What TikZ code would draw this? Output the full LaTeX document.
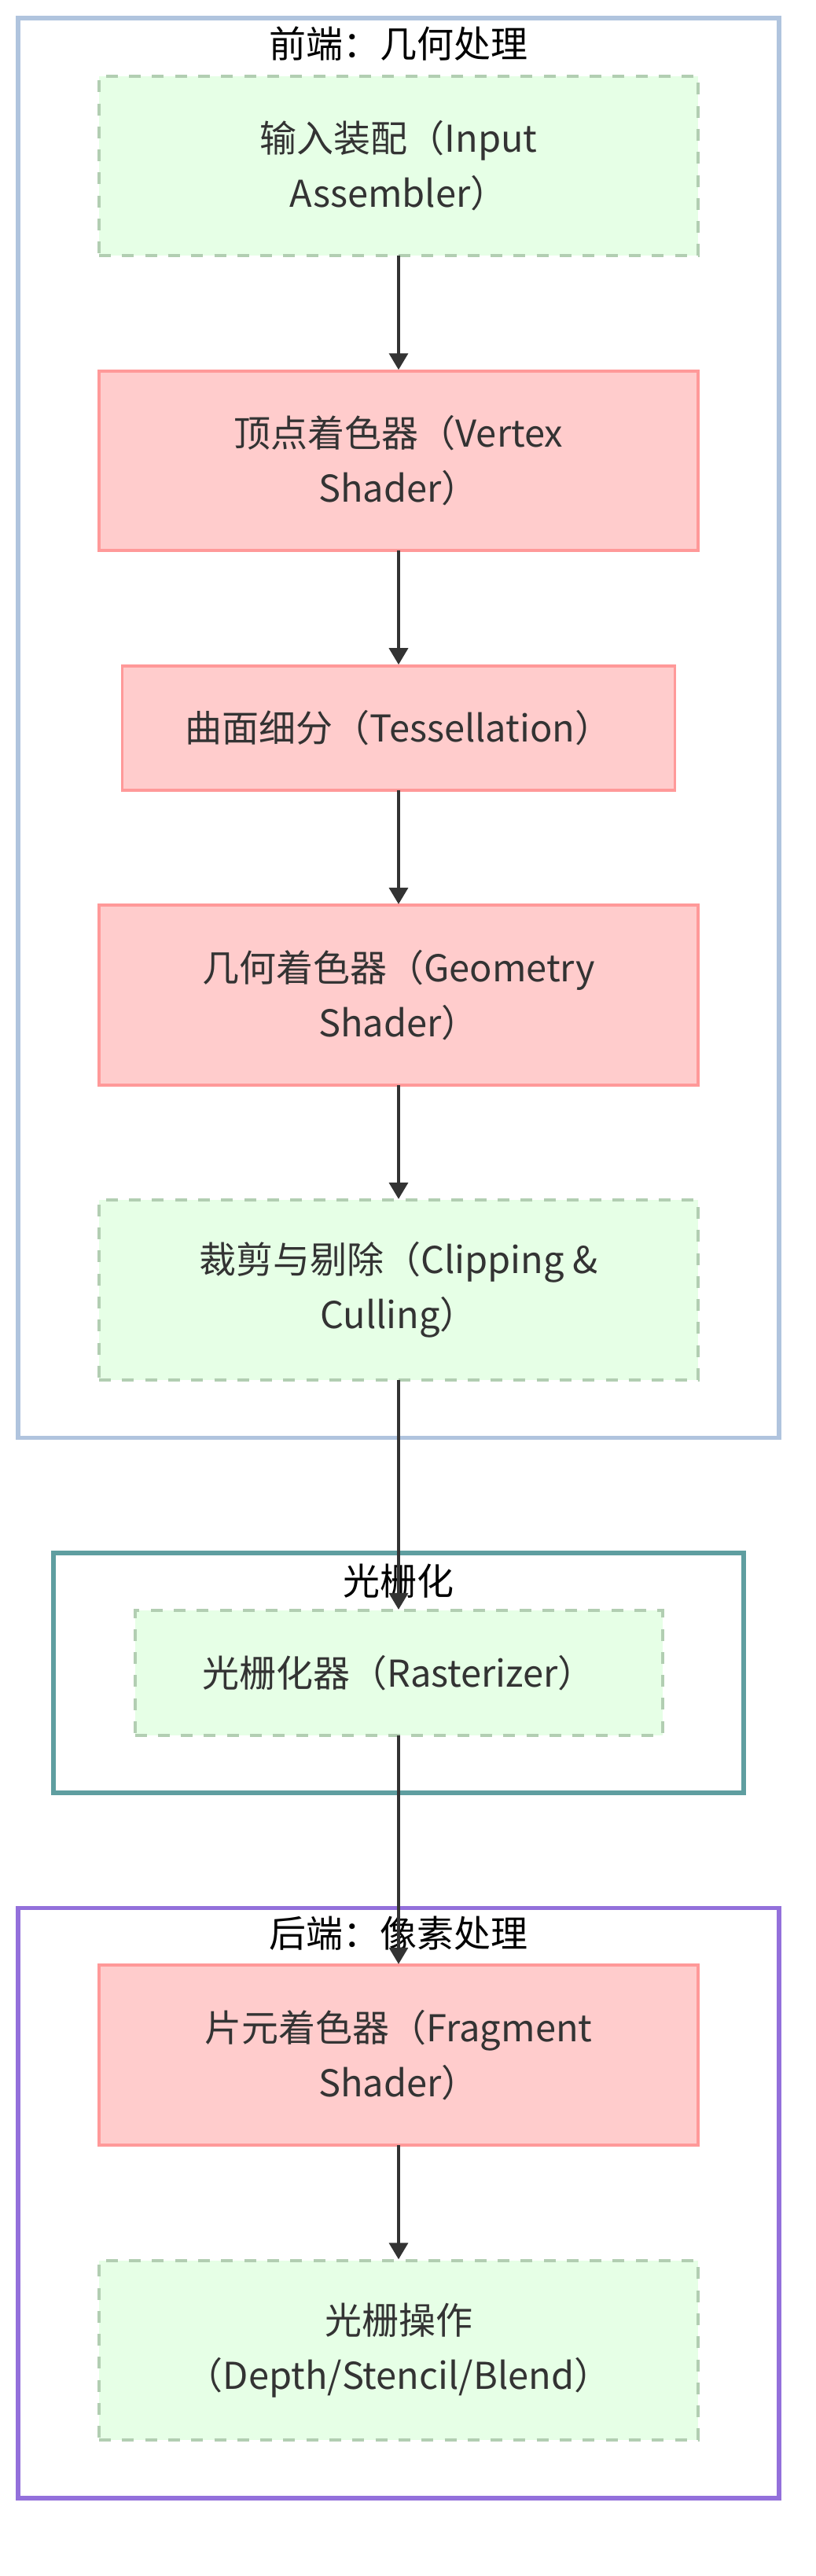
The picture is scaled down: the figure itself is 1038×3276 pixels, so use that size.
\documentclass[tikz,border=0pt]{standalone}
\usepackage{fontspec}
\newfontfamily\cjk{Noto Sans CJK SC}
\usetikzlibrary{arrows.meta}
\definecolor{pinkfill}{HTML}{FFCCCC}
\definecolor{pinkline}{HTML}{FF9999}
\definecolor{greenfill}{HTML}{E6FFE6}
\definecolor{greenline}{HTML}{B2CEB2}
\definecolor{frontc}{HTML}{B0C4DE}
\definecolor{rasterc}{HTML}{5F9EA0}
\definecolor{backc}{HTML}{9370DB}
\definecolor{edgec}{HTML}{333333}
\definecolor{txt}{HTML}{333333}
\begin{document}
\begin{tikzpicture}[x=1pt,y=-1pt,
  cluster/.style={draw, fill=white, line width=5.5pt, outer sep=0pt, inner sep=0pt, anchor=north west},
  basebox/.style={outer sep=0pt, inner sep=0pt, align=center, text=txt,
    font=\cjk\fontsize{47pt}{70pt}\selectfont},
  proc/.style={basebox, draw=pinkline, fill=pinkfill, line width=3.8pt},
  io/.style={basebox, draw=greenline, fill=greenfill, line width=4pt, dash pattern=on 15pt off 14.3pt},
  wide/.style={minimum width=762pt},
  tall/.style={minimum height=228.5pt},
  short/.style={minimum height=158.2pt},
  ctitle/.style={anchor=base, inner sep=0pt, text=black, font=\cjk\fontsize{47pt}{70pt}\selectfont},
  edge/.style={draw=edgec, line width=3.6pt, -{Triangle[length=21pt,width=24pt]}, shorten >=1.5pt}
]
\fill[white] (0,0) rectangle (1038,3276);
\useasboundingbox (0,0) rectangle (1038,3276);

% clusters
\node[cluster, draw=frontc, minimum width=968pt, minimum height=1805.5pt] (front) at (23,22.8) {};
\node[cluster, draw=rasterc, minimum width=878pt, minimum height=305pt] (raster) at (68,1975) {};
\node[cluster, draw=backc, minimum width=968pt, minimum height=750.5pt] (back) at (23,2426.5) {};

% cluster titles
\node[ctitle] (tfront) at (507,74) {前端：几何处理};
\node[ctitle] (traster) at (507,2028) {光栅化};
\node[ctitle] (tback) at (507,2476) {后端：像素处理};

% nodes
\node[io, wide, tall] (ia) at (507,211) {输入装配（Input\\Assembler）};
\node[proc, wide, tall] (vs) at (507,586) {顶点着色器（Vertex\\Shader）};
\node[proc, minimum width=703pt, short] (ts) at (507,925.8) {曲面细分（Tessellation）};
\node[proc, wide, tall] (gs) at (507,1265.6) {几何着色器（Geometry\\Shader）};
\node[io, wide, tall] (cc) at (507,1640.6) {裁剪与剔除（Clipping \&\\Culling）};
\node[io, minimum width=671pt, short] (rz) at (507,2127.5) {光栅化器（Rasterizer）};
\node[proc, wide, tall] (fs) at (507,2613.5) {片元着色器（Fragment\\Shader）};
\node[io, wide, tall] (rop) at (507,2989) {光栅操作\\（Depth/Stencil/Blend）};

% edges
\draw[edge] (ia.south) -- (vs.north);
\draw[edge] (vs.south) -- (ts.north);
\draw[edge] (ts.south) -- (gs.north);
\draw[edge] (gs.south) -- (cc.north);
\draw[edge] (cc.south) -- (rz.north);
\draw[edge] (rz.south) -- (fs.north);
\draw[edge] (fs.south) -- (rop.north);
\end{tikzpicture}
\end{document}
